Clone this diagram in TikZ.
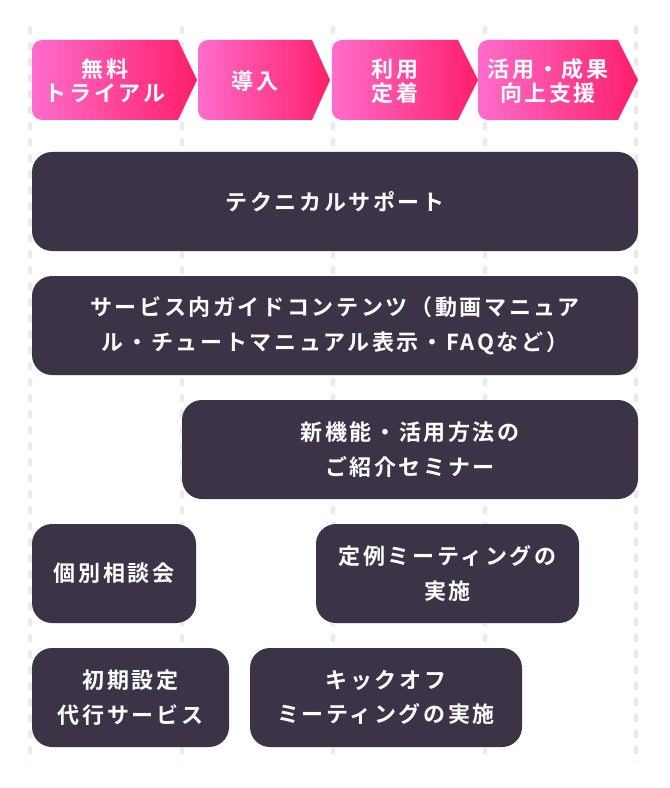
\documentclass[tikz,border=0pt]{standalone}
\usepackage{fontspec}
\setmainfont{Noto Sans CJK JP}[LetterSpace=12, BoldFont={* Bold}]
\usepackage{tikz}
\usetikzlibrary{positioning}
\definecolor{cmorado}{HTML}{3D3347}
\definecolor{crosaA}{HTML}{FF6CCB}
\definecolor{crosaB}{HTML}{FF1F6B}
\definecolor{cguia}{HTML}{EBEBEB}
\tikzset{
  guia/.style={draw=cguia, line width=3pt, dash pattern=on 6pt off 6pt},
  flechita/.style={left color=crosaA, right color=crosaB, draw=none},
  etapa/.style={text=white, align=center, inner sep=0pt,
    font=\bfseries\fontsize{16.5}{18}\selectfont},
  bloque/.style={rectangle, rounded corners=15pt, fill=cmorado, text=white,
    align=center, minimum height=74.25pt, inner sep=0pt,
    font=\bfseries\fontsize{16.5}{26}\selectfont},
}

\begin{document}
\begin{tikzpicture}[x=0.75pt, y=-0.75pt]
  \useasboundingbox (0,0) rectangle (670,788);
  % guias verticales
  \foreach \x in {30,181.5,333,484.5,636}
    \draw[guia] (\x,26) -- (\x,762);

  % etapas
  \foreach \xa/\xb/\xc in {32/178/197, 198/312/330, 332/458/478, 478/618/638}
    \path[flechita] (\xa,50) arc[start angle=180, end angle=270, radius=10]
      -- (\xb,40) -- (\xc,80) -- (\xb,120) -- (\xa+10,120)
      arc[start angle=90, end angle=180, radius=10] -- cycle;
  \node[etapa] (e1) at (105,81) {無料\\トライアル};
  \node[etapa] (e2) at (255,81) {導入};
  \node[etapa] (e3) at (395,81) {利用\\定着};
  \node[etapa] (e4) at (548,81) {活用・成果\\向上支援};

  % servicios
  \node[bloque, minimum width=606*0.75pt] (tec) at (335,201.5) {テクニカルサポート};
  \node[bloque, minimum width=606*0.75pt] (guias) at (335,325.5)
    {サービス内ガイドコンテンツ（動画マニュア\\ル・チュートマニュアル表示・FAQなど）};
  \node[bloque, minimum width=456*0.75pt] (semi) at (410,449.5) {新機能・活用方法の\\ご紹介セミナー};
  \node[bloque, minimum width=164*0.75pt] (cons) at (114,573.5) {個別相談会};
  \node[bloque, minimum width=263*0.75pt] (teirei) at (447.5,573.5) {定例ミーティングの\\実施};
  \node[bloque, minimum width=197*0.75pt] (shoki) at (130.5,697.5) {初期設定\\代行サービス};
  \node[bloque, minimum width=272*0.75pt] (kick) at (386,697.5) {キックオフ\\ミーティングの実施};
\end{tikzpicture}
\end{document}
